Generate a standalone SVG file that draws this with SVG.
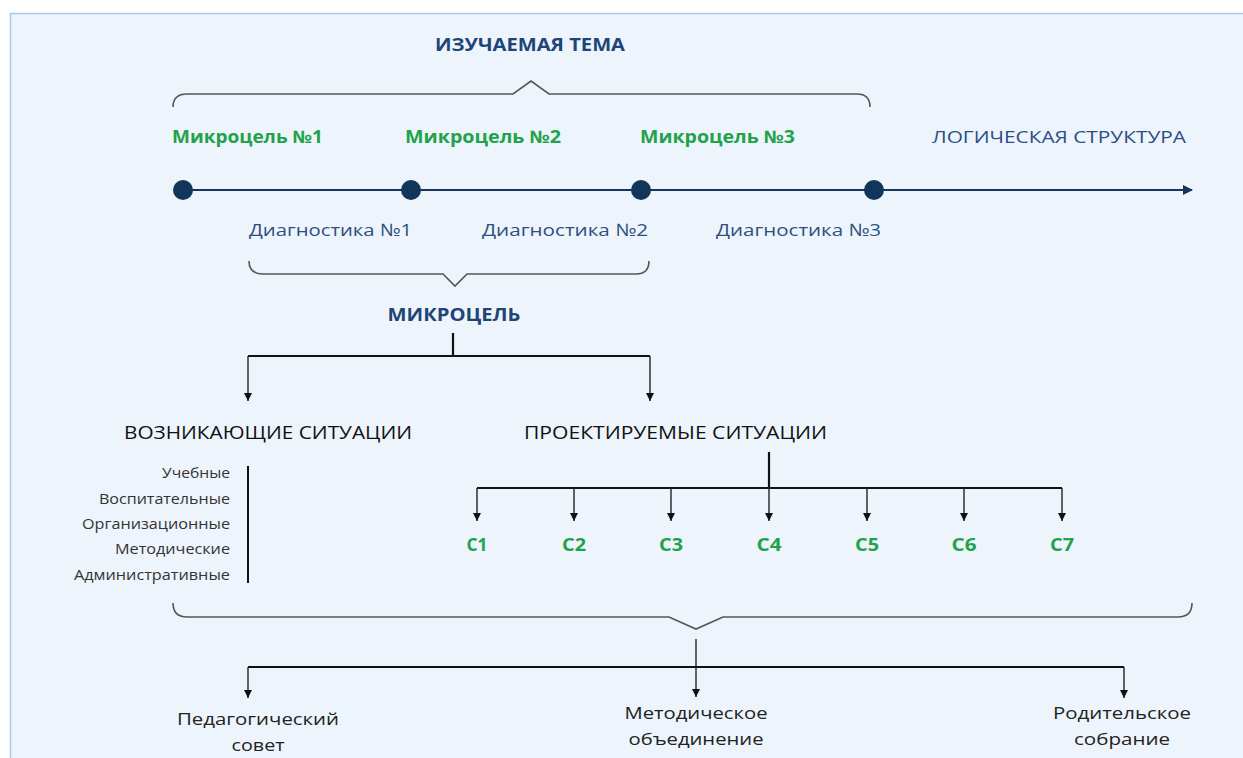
<svg xmlns="http://www.w3.org/2000/svg" width="1243" height="758" viewBox="0 0 1243 758">
<defs>
<style>
.t{font-family:"Open Sans","Noto Sans","Liberation Sans",sans-serif;}
.head{font-size:17px;font-weight:700;fill:#1f4477;}
.green{font-size:17px;font-weight:700;fill:#22a24a;}
.diag{font-size:17px;fill:#2c5080;}
.logic{font-size:17px;fill:#2a4f86;}
.sit{font-size:18.5px;fill:#111;}
.item{font-size:14.5px;fill:#333;}
.bot{font-size:17px;fill:#222;}
.brace{fill:none;stroke:#555;stroke-width:1.6;}
.conn{fill:none;stroke:#111;stroke-width:2.2;}
.arr{fill:none;stroke:#222;stroke-width:1.4;}
</style>
<marker id="ah" markerWidth="8" markerHeight="8" refX="8" refY="4" orient="auto" markerUnits="userSpaceOnUse" viewBox="0 0 8 8">
<path d="M0,0 L8,4 L0,8 Z" fill="#111"/>
</marker>
<marker id="tl" markerWidth="10" markerHeight="10" refX="9" refY="5" orient="auto" markerUnits="userSpaceOnUse">
<path d="M0,0 L10,5 L0,10 Z" fill="#14365a"/>
</marker>
</defs>
<rect x="10.5" y="13.5" width="1240" height="760" fill="#edf4fb" stroke="#a8cbea" stroke-width="1.5"/>

<g id="braces">
<path class="brace" d="M173,107 Q173,94 187,94 L513,94 L531,81 L549,94 L857,94 Q870,94 870,107"/>
<path class="brace" d="M249,261 Q249,274 263,274 L443,274 L455,286 L467,274 L636,274 Q649,274 649,261"/>
<path class="brace" d="M173,603 Q173,617 187,617 L669,617 L696,629 L723,617 L1178,617 Q1192,617 1192,603"/>
</g>

<g id="title"><text class="t head" x="530" y="51" text-anchor="middle" textLength="190" lengthAdjust="spacingAndGlyphs">ИЗУЧАЕМАЯ ТЕМА</text></g>

<g id="microgoals">
<text class="t green" x="172" y="143" textLength="151" lengthAdjust="spacingAndGlyphs">Микроцель №1</text>
<text class="t green" x="405" y="143" textLength="156" lengthAdjust="spacingAndGlyphs">Микроцель №2</text>
<text class="t green" x="640" y="143" textLength="155" lengthAdjust="spacingAndGlyphs">Микроцель №3</text>
<text class="t logic" x="932" y="143" textLength="254" lengthAdjust="spacingAndGlyphs">ЛОГИЧЕСКАЯ СТРУКТУРА</text>
</g>

<g id="timeline">
<line x1="183" y1="190" x2="1192" y2="190" stroke="#14365a" stroke-width="2.2" marker-end="url(#tl)"/>
<circle cx="183" cy="190" r="10" fill="#12355a"/>
<circle cx="411" cy="190" r="10" fill="#12355a"/>
<circle cx="641" cy="190" r="10" fill="#12355a"/>
<circle cx="874" cy="190" r="10" fill="#12355a"/>
</g>

<g id="diagnostics">
<text class="t diag" x="249" y="236" textLength="163" lengthAdjust="spacingAndGlyphs">Диагностика №1</text>
<text class="t diag" x="482" y="236" textLength="166" lengthAdjust="spacingAndGlyphs">Диагностика №2</text>
<text class="t diag" x="716" y="236" textLength="165" lengthAdjust="spacingAndGlyphs">Диагностика №3</text>
</g>

<g id="microgoal"><text class="t head" x="454" y="321" text-anchor="middle" textLength="133" lengthAdjust="spacingAndGlyphs">МИКРОЦЕЛЬ</text></g>

<g id="arising">
<text class="t sit" x="124" y="439" textLength="288" lengthAdjust="spacingAndGlyphs">ВОЗНИКАЮЩИЕ СИТУАЦИИ</text>
<text class="t item" x="230" y="478" text-anchor="end" textLength="68" lengthAdjust="spacingAndGlyphs">Учебные</text>
<text class="t item" x="230" y="504" text-anchor="end" textLength="131" lengthAdjust="spacingAndGlyphs">Воспитательные</text>
<text class="t item" x="230" y="529" text-anchor="end" textLength="148" lengthAdjust="spacingAndGlyphs">Организационные</text>
<text class="t item" x="230" y="554" text-anchor="end" textLength="115" lengthAdjust="spacingAndGlyphs">Методические</text>
<text class="t item" x="230" y="580" text-anchor="end" textLength="156" lengthAdjust="spacingAndGlyphs">Административные</text>
<line x1="248" y1="466" x2="248" y2="583" stroke="#111" stroke-width="2"/>
</g>

<g id="projected"><text class="t sit" x="524" y="439" textLength="303" lengthAdjust="spacingAndGlyphs">ПРОЕКТИРУЕМЫЕ СИТУАЦИИ</text></g>

<g id="situations">
<text class="t green" x="477" y="551" text-anchor="middle" textLength="21" lengthAdjust="spacingAndGlyphs">С1</text>
<text class="t green" x="574" y="551" text-anchor="middle" textLength="24" lengthAdjust="spacingAndGlyphs">С2</text>
<text class="t green" x="671" y="551" text-anchor="middle" textLength="24" lengthAdjust="spacingAndGlyphs">С3</text>
<text class="t green" x="769" y="551" text-anchor="middle" textLength="25" lengthAdjust="spacingAndGlyphs">С4</text>
<text class="t green" x="867" y="551" text-anchor="middle" textLength="24" lengthAdjust="spacingAndGlyphs">С5</text>
<text class="t green" x="964" y="551" text-anchor="middle" textLength="25" lengthAdjust="spacingAndGlyphs">С6</text>
<text class="t green" x="1062" y="551" text-anchor="middle" textLength="24" lengthAdjust="spacingAndGlyphs">С7</text>
</g>

<g id="bodies">
<text class="t bot" x="258" y="725" text-anchor="middle" textLength="162" lengthAdjust="spacingAndGlyphs">Педагогический</text>
<text class="t bot" x="258" y="751" text-anchor="middle" textLength="53" lengthAdjust="spacingAndGlyphs">совет</text>
<text class="t bot" x="696" y="719" text-anchor="middle" textLength="143" lengthAdjust="spacingAndGlyphs">Методическое</text>
<text class="t bot" x="696" y="745" text-anchor="middle" textLength="135" lengthAdjust="spacingAndGlyphs">объединение</text>
<text class="t bot" x="1122" y="719" text-anchor="middle" textLength="138" lengthAdjust="spacingAndGlyphs">Родительское</text>
<text class="t bot" x="1122" y="745" text-anchor="middle" textLength="96" lengthAdjust="spacingAndGlyphs">собрание</text>
</g>

<g id="connectors">
<line class="conn" x1="453" y1="333" x2="453" y2="356"/>
<line class="conn" x1="248" y1="356" x2="650" y2="356"/>
<line class="arr" x1="248" y1="356" x2="248" y2="401" marker-end="url(#ah)"/>
<line class="arr" x1="650" y1="356" x2="650" y2="401" marker-end="url(#ah)"/>

<line class="conn" x1="769" y1="452" x2="769" y2="488"/>
<line class="conn" x1="477" y1="488" x2="1062" y2="488"/>
<line class="arr" x1="477" y1="488" x2="477" y2="521" marker-end="url(#ah)"/>
<line class="arr" x1="574" y1="488" x2="574" y2="521" marker-end="url(#ah)"/>
<line class="arr" x1="671" y1="488" x2="671" y2="521" marker-end="url(#ah)"/>
<line class="arr" x1="769" y1="488" x2="769" y2="521" marker-end="url(#ah)"/>
<line class="arr" x1="867" y1="488" x2="867" y2="521" marker-end="url(#ah)"/>
<line class="arr" x1="964" y1="488" x2="964" y2="521" marker-end="url(#ah)"/>
<line class="arr" x1="1062" y1="488" x2="1062" y2="521" marker-end="url(#ah)"/>

<line class="arr" x1="696" y1="639" x2="696" y2="697" marker-end="url(#ah)"/>
<line class="conn" x1="248" y1="667" x2="1124" y2="667"/>
<line class="arr" x1="248" y1="667" x2="248" y2="698" marker-end="url(#ah)"/>
<line class="arr" x1="1124" y1="667" x2="1124" y2="698" marker-end="url(#ah)"/>
</g>
</svg>
